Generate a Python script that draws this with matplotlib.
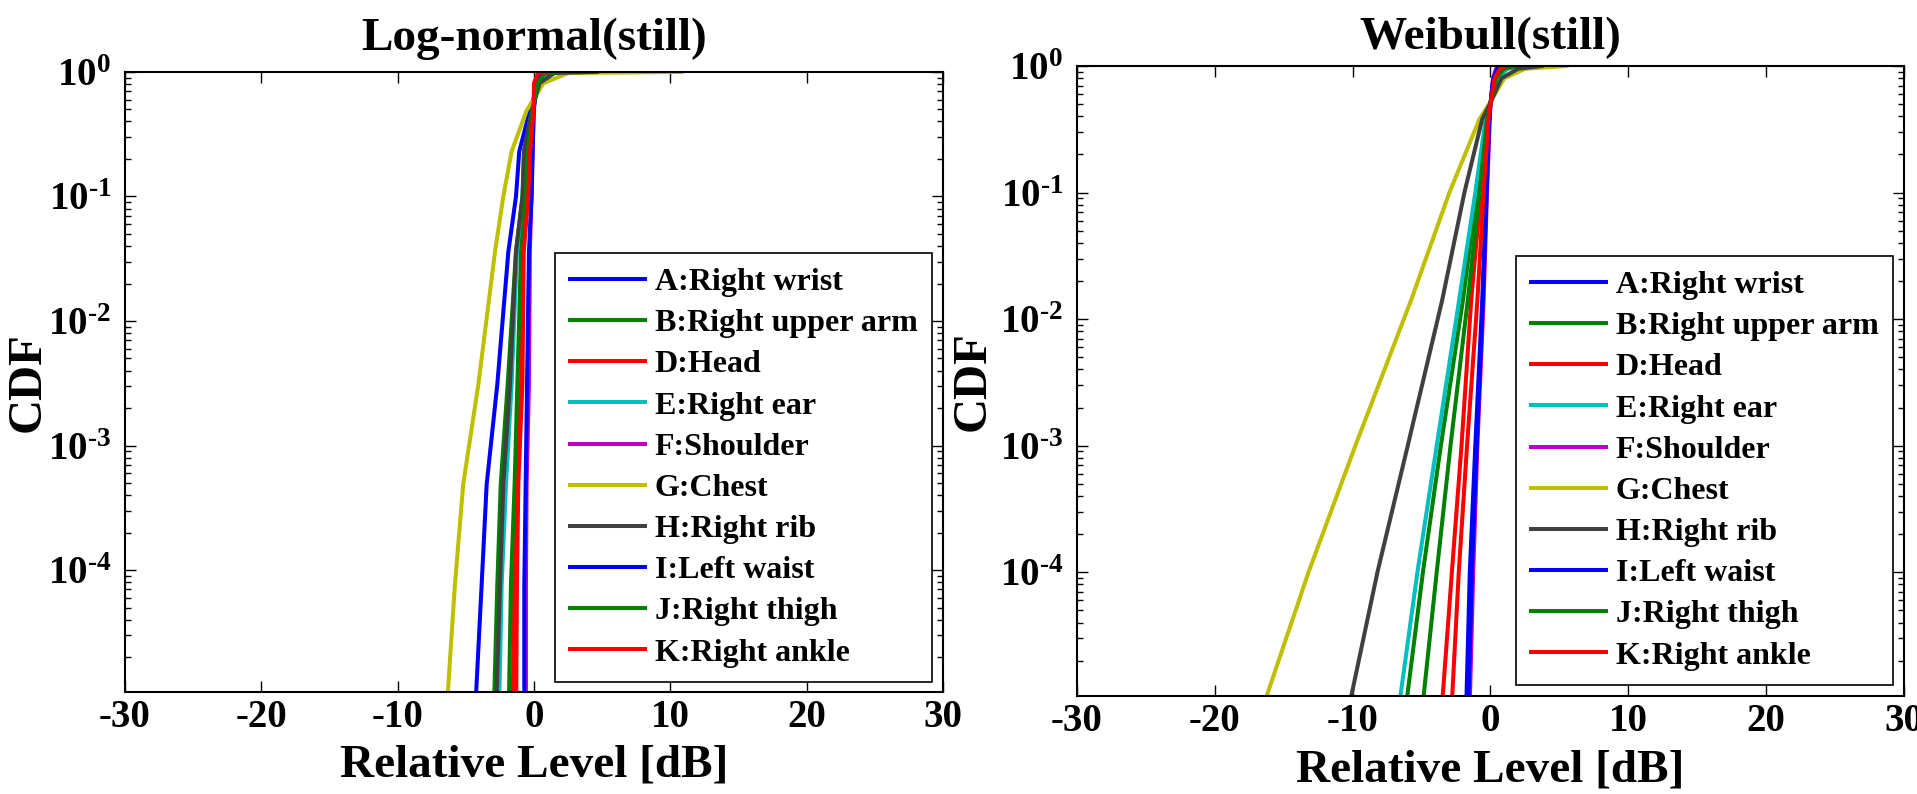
import matplotlib
matplotlib.use('Agg')
import matplotlib.pyplot as plt

plt.rcParams['font.family'] = ['Liberation Serif', 'DejaVu Serif']
plt.rcParams['font.weight'] = 'bold'
plt.rcParams['mathtext.fontset'] = 'custom'
plt.rcParams['mathtext.rm'] = 'Liberation Serif:bold'
plt.rcParams['mathtext.bf'] = 'Liberation Serif:bold'
plt.rcParams['mathtext.it'] = 'Liberation Serif:bold'

labels = ['A:Right wrist', 'B:Right upper arm', 'D:Head', 'E:Right ear', 'F:Shoulder',
          'G:Chest', 'H:Right rib', 'I:Left waist', 'J:Right thigh', 'K:Right ankle']
colors = ['#0000ff', '#008000', '#ff0000', '#00bfbf', '#bf00bf',
          '#bfbf00', '#404040', '#0000ff', '#008000', '#ff0000']

# CDF levels at which the curves were read (log-normal panel)
cdf_ln = [1e-5, 7.6e-5, 4.9e-4, 3.1e-3, 3.6e-2, 0.1, 0.23, 0.49, 0.81, 0.98, 1.0]
ln_A = [-4.25, -3.84, -3.47, -2.69, -1.88, -1.32, -1.08, -0.30, 0.30, 0.70, 1.2]
ln_B = [-2.91, -2.69, -2.44, -1.93, -1.32, -0.85, -0.73, -0.15, 0.35, 1.20, 3.1]
ln_D = [-1.55, -1.45, -1.28, -0.95, -0.80, -0.50, -0.30, -0.05, 0.10, 0.50, 2.5]
ln_E = [-2.54, -2.37, -2.05, -1.64, -1.25, -0.80, -0.70, -0.12, 0.30, 0.90, 2.0]
ln_F = [-0.59, -0.59, -0.54, -0.37, -0.30, -0.20, -0.10, -0.02, 0.15, 0.40, 0.8]
ln_G = [-6.33, -5.80, -5.19, -4.08, -2.86, -2.25, -1.64, -0.54, 0.68, 2.50, 10.8]
ln_H = [-2.74, -2.49, -2.25, -1.76, -1.32, -0.83, -0.73, -0.15, 0.40, 1.50, 4.6]
ln_I = [-0.71, -0.71, -0.61, -0.51, -0.37, -0.17, -0.10, -0.02, 0.20, 0.50, 1.0]
ln_J = [-1.83, -1.69, -1.42, -1.22, -0.95, -0.60, -0.45, -0.08, 0.25, 0.80, 2.0]
ln_K = [-1.30, -1.25, -1.15, -0.85, -0.75, -0.42, -0.29, -0.03, 0.00, 0.30, 1.5]

# CDF levels at which the curves were read (Weibull panel)
cdf_wb = [9.3e-6, 1e-4, 1e-3, 1.4e-2, 0.1, 0.38, 0.5, 0.8, 0.95, 1.0]
wb_A = [-1.75, -1.50, -1.10, -0.60, -0.30, -0.10, 0.00, 0.20, 0.50, 0.9]
wb_B = [-6.10, -4.90, -3.60, -2.00, -1.00, -0.30, 0.00, 0.50, 1.20, 2.0]
wb_D = [-3.50, -2.80, -2.10, -1.40, -0.70, -0.20, 0.00, 0.30, 0.80, 1.5]
wb_E = [-6.60, -5.30, -3.90, -2.28, -1.10, -0.35, 0.00, 0.50, 1.20, 2.0]
wb_F = [-1.50, -1.25, -0.95, -0.50, -0.25, -0.05, 0.00, 0.20, 0.40, 0.7]
wb_G = [-16.4, -13.2, -9.80, -5.77, -2.98, -0.80, -0.10, 1.00, 2.50, 5.5]
wb_H = [-10.2, -8.20, -6.00, -3.51, -1.89, -0.60, -0.05, 0.80, 2.00, 3.7]
wb_I = [-1.60, -1.35, -1.00, -0.55, -0.28, -0.08, 0.00, 0.20, 0.50, 0.8]
wb_J = [-4.90, -3.90, -2.90, -1.65, -0.80, -0.25, 0.00, 0.40, 1.00, 1.8]
wb_K = [-2.80, -2.30, -1.70, -0.95, -0.50, -0.15, 0.00, 0.30, 0.70, 1.2]

ln_series = [ln_A, ln_B, ln_D, ln_E, ln_F, ln_G, ln_H, ln_I, ln_J, ln_K]
wb_series = [wb_A, wb_B, wb_D, wb_E, wb_F, wb_G, wb_H, wb_I, wb_J, wb_K]

ytick_vals = [1e-4, 1e-3, 1e-2, 1e-1, 1e0]
ytick_labels = [r'$10^{\text{-}4}$', r'$10^{\text{-}3}$', r'$10^{\text{-}2}$',
                r'$10^{\text{-}1}$', r'$10^{0}$']
xtick_vals = [-30, -20, -10, 0, 10, 20, 30]

fig = plt.figure(figsize=(19.17, 7.94), dpi=100)
ax1 = fig.add_axes([0.0652, 0.1285, 0.4267, 0.7809])
ax2 = fig.add_axes([0.5618, 0.1234, 0.4314, 0.7935])


def draw_panel(ax, cdf, series, title, anchor, title_pad, ylab_x):
    for xs, c, lab in zip(series, colors, labels):
        ax.plot(xs, cdf, color=c, lw=2.9, label=lab)
    ax.set_yscale('log')
    ax.set_xlim(-30, 30)
    ax.set_ylim(1.05e-5, 1)
    ax.set_xticks(xtick_vals)
    ax.set_xticklabels([str(v) for v in xtick_vals])
    ax.set_yticks(ytick_vals)
    ax.set_yticklabels(ytick_labels)
    ax.tick_params(which='both', direction='in', top=True, right=True, width=1)
    ax.tick_params(which='major', length=8, labelsize=28)
    ax.tick_params(axis='x', which='major', pad=5)
    ax.tick_params(axis='y', which='major', pad=10)
    ax.tick_params(which='minor', length=4)
    for sp in ax.spines.values():
        sp.set_linewidth(1.5)
    ax.set_title(title, fontsize=34, fontweight='bold', pad=title_pad)
    ax.set_xlabel('Relative Level [dB]', fontsize=34, fontweight='bold')
    ax.xaxis.set_label_coords(0.5, -0.085)
    ax.set_ylabel('CDF', fontsize=35, fontweight='bold')
    ax.yaxis.set_label_coords(ylab_x, 0.5)
    leg = ax.legend(loc='lower right', bbox_to_anchor=anchor, borderaxespad=0,
                    fontsize=23, frameon=True, fancybox=False, framealpha=1,
                    edgecolor='black', handlelength=2.37, handletextpad=0.3,
                    labelspacing=0.37, borderpad=0.45)
    leg.get_frame().set_linewidth(1.2)


draw_panel(ax1, cdf_ln, ln_series, 'Log-normal(still)', (0.9866, 0.0161), 16, -0.092)
draw_panel(ax2, cdf_wb, wb_series, 'Weibull(still)', (0.9867, 0.0175), 12, -0.099)

fig.savefig('out.png', dpi=100)
